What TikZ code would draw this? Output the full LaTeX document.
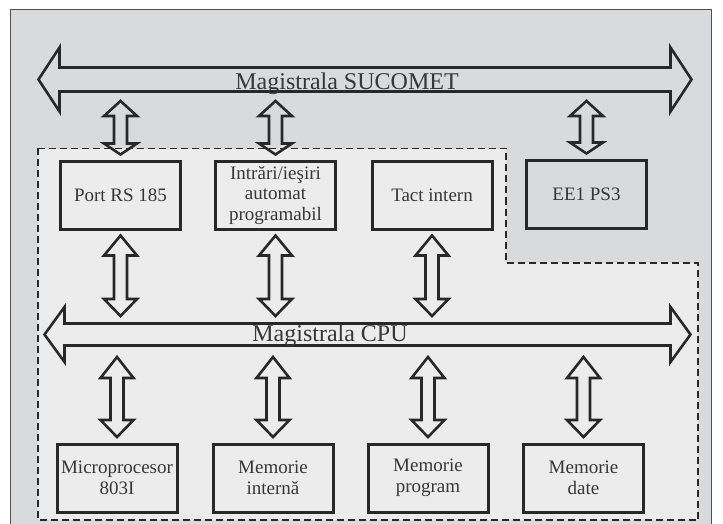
\documentclass[tikz,border=0pt]{standalone}
\usepackage{fontspec}
\setmainfont{Liberation Serif}
\usetikzlibrary{calc}
\definecolor{panelgray}{RGB}{217,218,219}
\definecolor{cpugray}{RGB}{235,236,235}
\definecolor{inkline}{RGB}{40,40,40}
\definecolor{inktext}{RGB}{55,55,55}
\definecolor{framegray}{RGB}{80,80,80}
\tikzset{
  unitbox/.style={draw=inkline, line width=3pt, minimum width=120pt, minimum height=68pt,
    inner sep=0pt, align=center, text=inktext, font=\rmfamily\fontsize{19}{20.5}\selectfont},
  busshape/.style={draw=inkline, line width=2.6pt, line join=miter},
  buslabel/.style={text=inktext, font=\rmfamily\fontsize{24}{28}\selectfont, inner sep=0pt, anchor=base},
  linkshape/.style={draw=inkline, line width=2.6pt, line join=miter},
  zone/.style={draw=inkline, line width=1.2pt, dash pattern=on 7pt off 4pt, fill=cpugray}
}
% vertical two-headed block arrow: top tip, bottom tip, top head length, bottom head length
\newcommand\linkarrow[4]{%
  \draw[linkshape] let \p1=(#1), \p2=(#2) in
    (\x1,\y1) -- (\x1+16.5pt,\y1-#3) -- (\x1+6.5pt,\y1-#3) -- (\x1+6.5pt,\y2+#4)
    -- (\x1+16.5pt,\y2+#4) -- (\x1,\y2) -- (\x1-16.5pt,\y2+#4) -- (\x1-6.5pt,\y2+#4)
    -- (\x1-6.5pt,\y1-#3) -- (\x1-16.5pt,\y1-#3) -- cycle;}
% horizontal two-headed bus: left tip, right tip, head length, head half-height, shaft half-height
\newcommand\busarrow[5]{%
  \draw[busshape] let \p1=(#1), \p2=(#2) in
    (\x1,\y1) -- (\x1+#3,\y1+#4) -- (\x1+#3,\y1+#5) -- (\x2-#3,\y1+#5) -- (\x2-#3,\y1+#4)
    -- (\x2,\y1) -- (\x2-#3,\y1-#4) -- (\x2-#3,\y1-#5) -- (\x1+#3,\y1-#5)
    -- (\x1+#3,\y1-#4) -- cycle;}
\begin{document}
\begin{tikzpicture}[x=1pt, y=-1pt]
  \useasboundingbox (0,0) rectangle (723,524);
  \begin{scope}
    \clip (0,0) rectangle (723,524);
    % outer panel
    \draw[framegray, line width=1.5pt, fill=panelgray] (10.5,9.5) rectangle (711.5,540);
  \end{scope}

  % dashed CPU zone
  \draw[zone] (38,148.5) -- (506,148.5) -- (506,263) -- (698,263) -- (698,520) -- (38,520) -- cycle;

  % system bus
  \coordinate (sucL) at (38.5,79.5);
  \coordinate (sucR) at (691.5,79.5);
  \busarrow{sucL}{sucR}{21pt}{32pt}{12pt}
  \node[buslabel] (suclabel) at (347,89.5) {Magistrala SUCOMET};

  % CPU bus
  \coordinate (cpuL) at (44.5,334.5);
  \coordinate (cpuR) at (690.5,334.5);
  \busarrow{cpuL}{cpuR}{20pt}{27.5pt}{11pt}
  \node[buslabel] (cpulabel) at (330,341.5) {Magistrala CPU};

  % units
  \node[unitbox] (port) at (120.5,195.5) {Port RS 185};
  \node[unitbox] (io)   at (275.5,195.5) {Intrări/ieşiri\\automat\\programabil};
  \node[unitbox] (tact) at (432,195.5)   {Tact intern};
  \node[unitbox] (ee)   at (586.5,194.5) {EE1 PS3};

  \node[unitbox] (micro)   at (117,478)   {Microprocesor\\803I};
  \node[unitbox] (memint)  at (273,478)   {Memorie\\internă};
  \node[unitbox] (memprog) at (428,478)   {Memorie\\program};
  \node[unitbox] (memdate) at (583.5,478) {Memorie\\date};

  % bus tap levels
  \coordinate (sucB) at (0,101);
  \coordinate (cpuT) at (0,316);
  \coordinate (cpuB) at (0,357);

  % system bus to units
  \linkarrow{port.north |- sucB}{$(port.north)+(0,-5.5)$}{15pt}{11pt}
  \linkarrow{io.north |- sucB}{$(io.north)+(0,-5.5)$}{15pt}{11pt}
  \linkarrow{ee.north |- sucB}{$(ee.north)+(0,-5.5)$}{15pt}{11pt}

  % units to CPU bus
  \linkarrow{$(port.south)+(0,4.5)$}{port.south |- cpuT}{20pt}{17pt}
  \linkarrow{$(io.south)+(0,4.5)$}{io.south |- cpuT}{20pt}{17pt}
  \linkarrow{$(tact.south)+(0,4.5)$}{tact.south |- cpuT}{20pt}{17pt}

  % CPU bus to core units
  \linkarrow{micro.north |- cpuB}{$(micro.north)+(0,-5.5)$}{21pt}{17pt}
  \linkarrow{memint.north |- cpuB}{$(memint.north)+(0,-5.5)$}{21pt}{17pt}
  \linkarrow{memprog.north |- cpuB}{$(memprog.north)+(0,-5.5)$}{21pt}{17pt}
  \linkarrow{memdate.north |- cpuB}{$(memdate.north)+(0,-5.5)$}{21pt}{17pt}
\end{tikzpicture}
\end{document}
